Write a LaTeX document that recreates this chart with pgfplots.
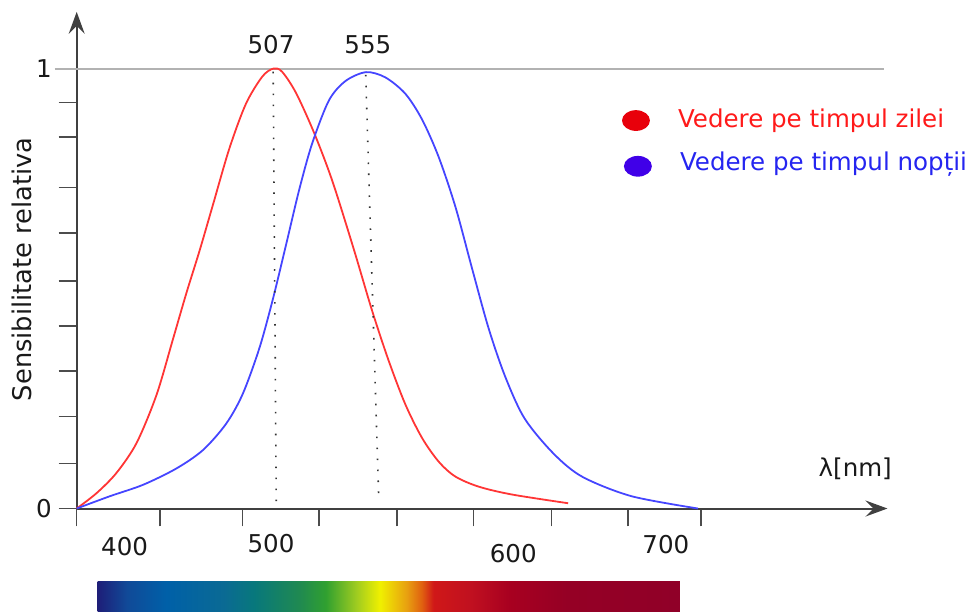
\documentclass[border=0pt]{standalone}
\usepackage{pgfplots}
\pgfplotsset{compat=1.18}
\usepackage{fontspec}
\setmainfont{DejaVu Sans}
\usetikzlibrary{arrows.meta}

\definecolor{dayred}{HTML}{FF3535}
\definecolor{nightblue}{HTML}{4545FF}
\definecolor{dotred}{HTML}{E8000B}
\definecolor{dotblue}{HTML}{4000E8}
\definecolor{txtred}{HTML}{FF1A1A}
\definecolor{txtblue}{HTML}{2525F0}

% spectrum colours, left to right
\definecolor{sp0}{HTML}{1E1E78}
\definecolor{sp1}{HTML}{104A98}
\definecolor{sp2}{HTML}{0060A8}
\definecolor{sp3}{HTML}{0A6A94}
\definecolor{sp4}{HTML}{08787C}
\definecolor{sp5}{HTML}{208A50}
\definecolor{sp6}{HTML}{30A030}
\definecolor{sp7}{HTML}{A0CC20}
\definecolor{sp8}{HTML}{F0F000}
\definecolor{sp9}{HTML}{E8A010}
\definecolor{sp10}{HTML}{E06010}
\definecolor{sp11}{HTML}{D01818}
\definecolor{sp12}{HTML}{C01020}
\definecolor{sp13}{HTML}{A80020}
\definecolor{sp14}{HTML}{950025}
\definecolor{sp15}{HTML}{900028}
\pgfdeclarehorizontalshading{spectrum}{100bp}{
  color(0bp)=(sp0); color(25bp)=(sp0); color(27.55bp)=(sp1);
  color(30.9bp)=(sp2); color(35.8bp)=(sp3); color(38.45bp)=(sp4);
  color(42.4bp)=(sp5); color(44.6bp)=(sp6); color(47.25bp)=(sp7);
  color(49.25bp)=(sp8); color(51.55bp)=(sp9); color(52.85bp)=(sp10);
  color(53.85bp)=(sp11); color(57.1bp)=(sp12); color(60.35bp)=(sp13);
  color(65.35bp)=(sp14); color(75bp)=(sp15); color(100bp)=(sp15)}

\begin{document}
\begin{tikzpicture}[font=\fontsize{12.3}{14}\selectfont]
\begin{axis}[
    scale only axis,
    width=406.5pt, height=249pt,
    xmin=405.2, xmax=824.9,
    ymin=0, ymax=1.129,
    axis lines=left,
    axis line style={line width=1pt, draw=black!75,
        -{Stealth[length=11pt, width=8pt, inset=4pt]}},
    clip=false,
    xtick={405.2,448.2,491.0,530.7,571.0,610.7,651.0,690.7,728.4},
    xticklabels={,,,,,,,,},
    ytick={0,0.102,0.209,0.313,0.415,0.517,0.626,0.730,0.844,0.923,1},
    yticklabels={0,,,,,,,,,,1},
    tick align=outside,
    major tick length=9pt,
    tick style={line width=0.8pt, draw=black!70},
    yticklabel style={black!90},
]
% level line at 1
\draw[black!30, line width=1pt] (axis cs:393.8,1) -- (axis cs:823.2,1);

% day vision
\addplot[dayred, line width=0.9pt, smooth] coordinates {
  (405.2,0) (415.5,0.035) (425.8,0.081) (436.2,0.149) (446.5,0.258)
  (455.1,0.386) (462.0,0.490) (468.8,0.586) (475.7,0.690) (484.2,0.818)
  (492.8,0.920) (501.3,0.982) (507,1.0) (511.5,0.993) (518.7,0.945)
  (528.0,0.855) (537.5,0.745) (548.6,0.590) (558.1,0.450) (566.7,0.336)
  (575.3,0.237) (583.9,0.161) (592.5,0.107) (601.1,0.073) (613.1,0.050)
  (630.3,0.032) (659.6,0.012)
};
% night vision
\addplot[nightblue, line width=0.9pt, smooth] coordinates {
  (405.2,0) (422.4,0.028) (439.6,0.054) (456.8,0.091) (470.6,0.133)
  (482.6,0.193) (491.2,0.261) (499.8,0.365) (506.7,0.475) (513.6,0.600)
  (520.4,0.725) (527.1,0.830) (535.8,0.928) (544.4,0.972) (555,0.992)
  (565.0,0.980) (575.3,0.943) (583.9,0.885) (592.5,0.800) (601.3,0.685)
  (609.9,0.545) (618.4,0.410) (627.0,0.300) (637.0,0.205) (652.0,0.125)
  (667.0,0.072) (692.4,0.028) (726.8,0)
};

% peak markers
\draw[black!80, line width=0.8pt, dash pattern=on 0.8pt off 4.7pt]
  (axis cs:506.9,0.993) -- (axis cs:508.5,0.011);
\draw[black!80, line width=0.8pt, dash pattern=on 0.8pt off 4.7pt]
  (axis cs:554.8,0.986) -- (axis cs:561.6,0.016);
\node[black!90] at (axis cs:505.8,1.054) {507};
\node[black!90] at (axis cs:555.9,1.054) {555};

% wavelength labels
\node[black!90] at (axis cs:430.0,-0.086) {400};
\node[black!90] at (axis cs:505.8,-0.079) {500};
\node[black!90] at (axis cs:631.2,-0.102) {600};
\node[black!90] at (axis cs:710.2,-0.082) {700};
\node[black!90] at (axis cs:808.2,0.091) {λ[nm]};

% axis title
\node[black!90, rotate=90, font=\fontsize{12.9}{14}\selectfont]
  at (axis cs:376.8,0.544) {Sensibilitate relativa};

% legend
\fill[dotred] (axis cs:694.7,0.882) ellipse[x radius=7pt, y radius=5.2pt];
\fill[dotblue] (axis cs:695.7,0.778) ellipse[x radius=7pt, y radius=5.2pt];
\node[txtred, anchor=west, inner sep=0pt] at (axis cs:716.3,0.882) {Vedere pe timpul zilei};
\node[txtblue, anchor=west, inner sep=0pt] at (axis cs:717.3,0.782) {Vedere pe timpul nopții};

% spectrum bar
\shade[shading=spectrum] (axis cs:416.0,-0.1655) rectangle (axis cs:717.4,-0.2336);

% picture frame
\path (axis cs:365.5,-0.2336) rectangle (axis cs:864.4,1.156);
\end{axis}
\end{tikzpicture}
\end{document}
